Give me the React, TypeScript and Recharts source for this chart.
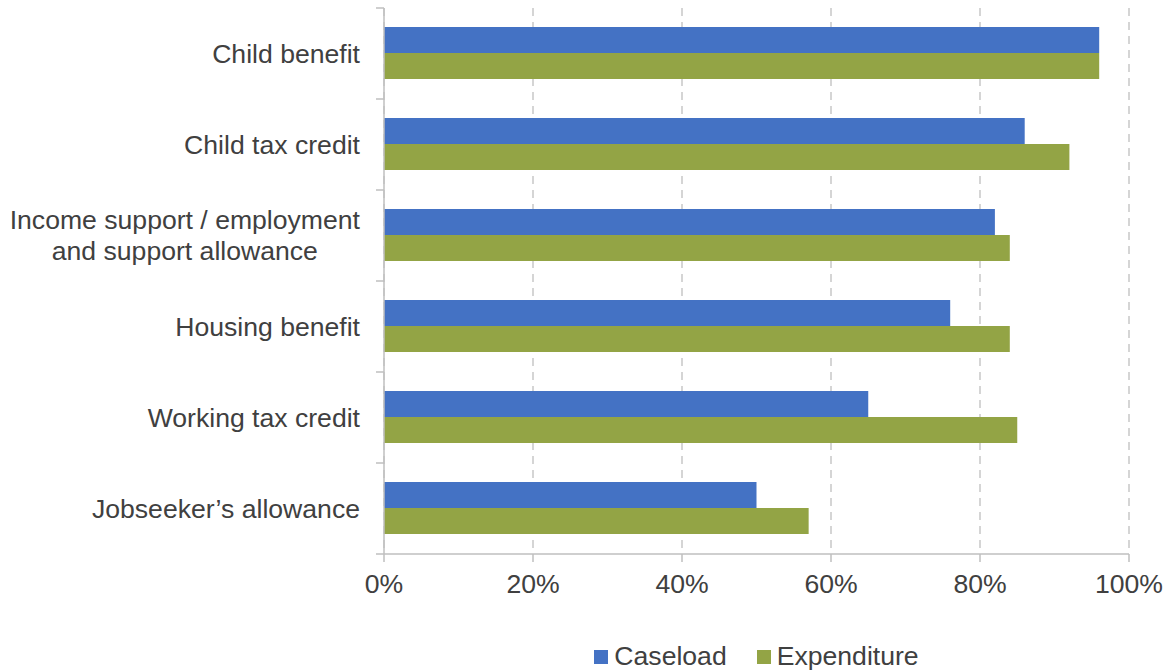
import React from "react";
import { BarChart, Bar, XAxis, YAxis, CartesianGrid, Legend } from "recharts";

const categories = [
  "Child benefit",
  "Child tax credit",
  "Income support / employment\nand support allowance",
  "Housing benefit",
  "Working tax credit",
  "Jobseeker\u2019s allowance",
];
const caseload = [96, 86, 82, 76, 65, 50];
const expenditure = [96, 92, 84, 84, 85, 57];
const xTicks = [0, 20, 40, 60, 80, 100];
const seriesNames = ["Caseload", "Expenditure"];
const colors = ["#4472C4", "#93A445"];

const data = categories.map((c, i) => ({
  name: c,
  caseload: caseload[i],
  expenditure: expenditure[i],
}));

const FONT = "'Liberation Sans', Arial, sans-serif";
const FS = 26.6;
const TEXT = "#404040";
const AXIS = "#BFBFBF";
const TICK_SIZE = 8;
const TICK_MARGIN = 16;

let ctx: CanvasRenderingContext2D | null = null;
const measure = (s: string) => {
  try {
    if (!ctx) ctx = document.createElement("canvas").getContext("2d");
    if (ctx) {
      ctx.font = `${FS}px 'Liberation Sans', Arial, sans-serif`;
      return ctx.measureText(s).width;
    }
  } catch (e) {}
  return s.length * FS * 0.5;
};

const YTick = (props: any) => {
  const { x, y, payload, index, visibleTicksCount } = props;
  const lines = String(payload.value).split("\n");
  const lh = 31;
  const half = payload && typeof payload.offset === "number" && payload.offset > 0 ? payload.offset : 45.5;
  const axisX = x + TICK_MARGIN + TICK_SIZE;
  const startY = y - ((lines.length - 1) * lh) / 2;
  const isLast = index === (visibleTicksCount ?? categories.length) - 1;
  const blockW = Math.max(...lines.map(measure));
  const multi = lines.length > 1;
  const tx = multi ? x - blockW / 2 : x;
  return (
    <g>
      <line x1={axisX - TICK_SIZE} x2={axisX} y1={y - half} y2={y - half} stroke={AXIS} strokeWidth={1.5} />
      {isLast && (
        <line x1={axisX - TICK_SIZE} x2={axisX} y1={y + half} y2={y + half} stroke={AXIS} strokeWidth={1.5} />
      )}
      <text
        x={tx}
        y={startY}
        textAnchor={multi ? "middle" : "end"}
        fill={TEXT}
        fontSize={FS}
        fontFamily={FONT}
        dominantBaseline="central"
      >
        {lines.map((l, i) => (
          <tspan key={i} x={tx} dy={i === 0 ? 0 : lh}>
            {l}
          </tspan>
        ))}
      </text>
    </g>
  );
};

const LegendContent = () => (
  <div
    style={{
      display: "flex",
      justifyContent: "center",
      alignItems: "center",
      fontFamily: FONT,
      fontSize: FS,
      color: TEXT,
      paddingTop: 20,
    }}
  >
    {seriesNames.map((n, i) => (
      <div key={n} style={{ display: "flex", alignItems: "center", marginRight: i === 0 ? 30 : 0 }}>
        <span style={{ display: "inline-block", width: 14, height: 14, background: colors[i], marginRight: 6 }} />
        <span>{n}</span>
      </div>
    ))}
  </div>
);

export default function App() {
  return (
    <div style={{ position: "absolute", left: 0, top: 0, width: 1171, height: 671, background: "#fff" }}>
      <BarChart
        width={1171}
        height={671}
        data={data}
        layout="vertical"
        margin={{ top: 8, right: 42, bottom: 0, left: 0 }}
        barCategoryGap="21%"
        barGap={0}
      >
        <CartesianGrid horizontal={false} vertical stroke="#C8C8C8" strokeWidth={1.5} strokeDasharray="8 6" />
        <XAxis
          type="number"
          domain={[0, 100]}
          ticks={xTicks}
          tickFormatter={(v: number) => `${v}%`}
          axisLine={{ stroke: AXIS, strokeWidth: 1.5 }}
          tickLine={{ stroke: AXIS, strokeWidth: 1.5 }}
          tickSize={TICK_SIZE}
          tickMargin={12}
          height={67}
          tick={{ fill: TEXT, fontSize: FS, fontFamily: FONT }}
          interval={0}
        />
        <YAxis
          type="category"
          dataKey="name"
          width={384}
          axisLine={{ stroke: AXIS, strokeWidth: 1.5 }}
          tickLine={false}
          tickSize={TICK_SIZE}
          tickMargin={TICK_MARGIN}
          tick={<YTick />}
          interval={0}
        />
        <Legend
          verticalAlign="bottom"
          height={50}
          wrapperStyle={{ left: 384, width: 745 }}
          content={<LegendContent />}
        />
        <Bar dataKey="caseload" name={seriesNames[0]} fill={colors[0]} isAnimationActive={false} />
        <Bar dataKey="expenditure" name={seriesNames[1]} fill={colors[1]} isAnimationActive={false} />
      </BarChart>
    </div>
  );
}
